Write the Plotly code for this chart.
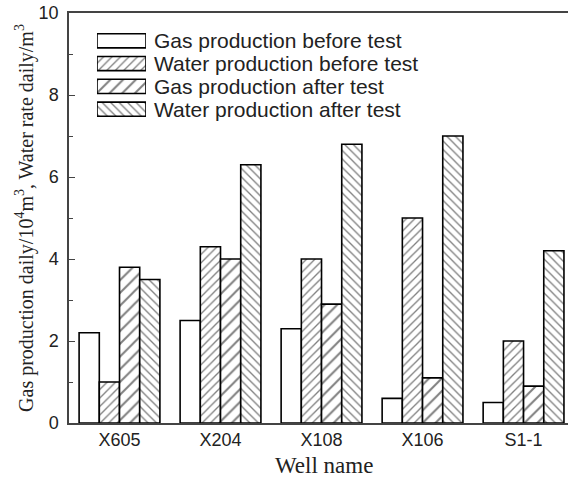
import plotly.graph_objects as go

wells = ["X605", "X204", "X108", "X106", "S1-1"]
gas_before = [2.2, 2.5, 2.3, 0.6, 0.5]
water_before = [1.0, 4.3, 4.0, 5.0, 2.0]
gas_after = [3.8, 4.0, 2.9, 1.1, 0.9]
water_after = [3.5, 6.3, 6.8, 7.0, 4.2]
y_ticks = [0, 2, 4, 6, 8, 10]

series_names = ["Gas production before test", "Water production before test",
                "Gas production after test", "Water production after test"]
series_values = [gas_before, water_before, gas_after, water_after]
pattern_shapes = ["", "/", "/", "\\"]
pattern_sizes = [6, 6, 9, 6]

SANS = "Liberation Sans, Arial, sans-serif"
SERIF = "Liberation Serif, Times New Roman, serif"
INK = "#222222"


def marker_for(shape, psize):
    return dict(
        color="white",
        line=dict(color="#000000", width=1.6),
        pattern=dict(shape=shape, fgcolor="#000000", bgcolor="white",
                     size=psize, solidity=0.22, fillmode="overlay"),
    )


fig = go.Figure()
for name, vals, shape, psize in zip(series_names, series_values, pattern_shapes, pattern_sizes):
    fig.add_trace(go.Bar(x=wells, y=vals, name=name, showlegend=False,
                         marker=marker_for(shape, psize)))

# legend swatches drawn as a small bar panel (full-width boxes, like the reference legend)
for name, shape, psize in zip(series_names, pattern_shapes, pattern_sizes):
    fig.add_trace(go.Bar(x=[1], y=[name], orientation="h", width=0.62,
                         xaxis="x2", yaxis="y2", showlegend=False, hoverinfo="skip",
                         marker=marker_for(shape, psize)))

fig.update_layout(
    width=568, height=483,
    margin=dict(l=69, r=0, t=13, b=60, autoexpand=False),
    paper_bgcolor="white", plot_bgcolor="white",
    barmode="group", bargap=0.2, bargroupgap=0,
    font=dict(family=SANS, color=INK, size=18),
    showlegend=False,
    xaxis2=dict(domain=[0.0561, 0.1543], anchor="y2", range=[0, 1], visible=False,
                fixedrange=True),
    yaxis2=dict(domain=[0.7376, 0.96], anchor="x2", type="category",
                autorange="reversed", side="right", showline=False, ticks="",
                tickmode="array", tickvals=series_names, ticktext=series_names,
                showgrid=False, zeroline=False, automargin=False,
                ticklabelstandoff=7,
                tickfont=dict(family=SANS, size=21, color=INK)),
    annotations=[dict(text="Well name", xref="paper", yref="paper", x=0.511, y=0,
                      xanchor="center", yanchor="middle", yshift=-42, showarrow=False,
                      font=dict(family=SERIF, size=23, color=INK))],
)

fig.update_layout(xaxis=dict(
    type="category", range=[-0.5, 4.44], automargin=False,
    showline=True, linecolor="#444444", linewidth=1.5, mirror=True,
    ticks="", showgrid=False,
    tickfont=dict(family=SANS, size=18, color=INK),
))
fig.update_layout(yaxis=dict(
    range=[0, 10], tickvals=y_ticks, automargin=False,
    showline=True, linecolor="#444444", linewidth=1.5,
    ticks="inside", ticklen=6, tickwidth=1, tickcolor="#444444",
    minor=dict(tickvals=[1, 3, 5, 7, 9], ticks="inside", ticklen=4, tickcolor="#444444"),
    showgrid=False, zeroline=False, ticklabelstandoff=5, ticklabeloverflow="allow",
    tickfont=dict(family=SANS, size=18, color=INK),
    title=dict(text="Gas production daily/10<sup>4</sup>m<sup>3</sup>, Water rate daily/m<sup>3</sup>",
               font=dict(family=SERIF, size=20, color=INK), standoff=0),
))

fig.write_html("out.html", config={"displayModeBar": False},
               post_script="document.body.style.margin='0px';document.body.style.padding='0px';")
